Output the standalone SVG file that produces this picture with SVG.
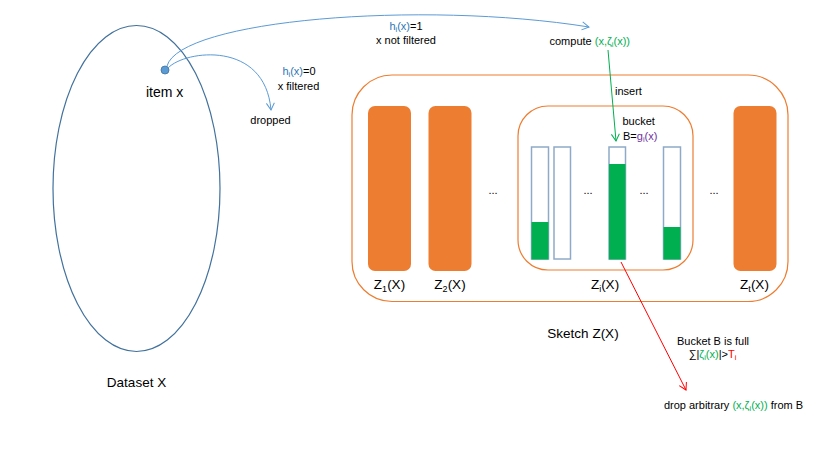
<svg xmlns="http://www.w3.org/2000/svg" width="830" height="467" viewBox="0 0 830 467">
<style>
text{font-family:"Liberation Sans",Arial,sans-serif;fill:#000}
.s{font-size:11px}
.m{font-size:13.5px}
.c{text-anchor:middle}
.blue{fill:#2E75B6}
.green{fill:#00B050}
.purple{fill:#7030A0}
.red{fill:#FF0000}
.bar{fill:#ED7D31}
.bk{fill:#fff;stroke:#8FAAC8;stroke-width:1.5}
.gf{fill:#00B050}
</style>
<defs>
<marker id="ab" markerWidth="10" markerHeight="10" refX="8" refY="5" orient="auto" markerUnits="userSpaceOnUse"><path d="M1,1 L8,5 L1,9" fill="none" stroke="#5B9BD5" stroke-width="1"/></marker>
<marker id="ag" markerWidth="10" markerHeight="10" refX="8" refY="5" orient="auto" markerUnits="userSpaceOnUse"><path d="M1,1 L8,5 L1,9" fill="none" stroke="#00B050" stroke-width="1"/></marker>
<marker id="ar" markerWidth="10" markerHeight="10" refX="8" refY="5" orient="auto" markerUnits="userSpaceOnUse"><path d="M1,1 L8,5 L1,9" fill="none" stroke="#FF0000" stroke-width="1"/></marker>
</defs>

<g id="dataset">
<ellipse cx="136.5" cy="188.5" rx="83.5" ry="163" fill="none" stroke="#41719C" stroke-width="1.2"/>
<text class="m c" x="136.5" y="387">Dataset X</text>
</g>

<g id="item">
<circle cx="165" cy="70" r="4" fill="#5B9BD5" stroke="#41719C" stroke-width="0.8"/>
<text x="146" y="97" style="font-size:14px">item x</text>
</g>

<g id="dropped">
<text class="s c" x="270.5" y="124">dropped</text>
</g>

<g id="sketch">
<rect x="352" y="75" width="436" height="226.5" rx="40" ry="40" fill="none" stroke="#ED7D31" stroke-width="1.2"/>
<text class="m c" x="583" y="338">Sketch Z(X)</text>
</g>

<g id="z1">
<rect class="bar" x="368" y="106" width="43" height="165" rx="7"/>
<text class="m c" x="389.5" y="289">Z<tspan font-size="9" dy="3">1</tspan><tspan dy="-3">(X)</tspan></text>
</g>
<g id="z2">
<rect class="bar" x="428.5" y="106" width="43" height="165" rx="7"/>
<text class="m c" x="450" y="289">Z<tspan font-size="9" dy="3">2</tspan><tspan dy="-3">(X)</tspan></text>
</g>
<g id="zi">
<rect x="518" y="106" width="175" height="164" rx="30" ry="30" fill="none" stroke="#ED7D31" stroke-width="1.2"/>
<rect class="bk" x="531.5" y="147" width="17" height="112"/>
<rect class="gf" x="531.5" y="222" width="17" height="37.5"/>
<rect class="bk" x="554" y="147" width="16.5" height="112"/>
<rect class="bk" x="609" y="147" width="16.5" height="112"/>
<rect class="gf" x="609" y="164" width="16.5" height="95.5"/>
<rect class="bk" x="663.5" y="147" width="17" height="112"/>
<rect class="gf" x="663.5" y="227" width="17" height="32.5"/>
<text class="s c" x="588" y="194">...</text>
<text class="s c" x="644" y="194">...</text>
<text class="s" x="622.5" y="124.5">bucket</text>
<text class="s" x="623" y="139.5">B=<tspan class="purple">g<tspan font-size="7.5" dy="2">i</tspan><tspan dy="-2">(x)</tspan></tspan></text>
<text class="m c" x="605" y="289">Z<tspan font-size="9" dy="3">i</tspan><tspan dy="-3">(X)</tspan></text>
</g>
<g id="zt">
<rect class="bar" x="733.5" y="106" width="43" height="165" rx="7"/>
<text class="m c" x="754.5" y="289">Z<tspan font-size="9" dy="3">t</tspan><tspan dy="-3">(X)</tspan></text>
</g>
<g id="dots">
<text class="s c" x="493" y="194">...</text>
<text class="s c" x="714" y="194">...</text>
</g>

<g id="compute">
<text class="s" x="549.5" y="45">compute <tspan class="green">(x,ζ<tspan font-size="7.5" dy="2">i</tspan><tspan dy="-2">(x))</tspan></tspan></text>
</g>

<g id="full">
<text class="s c" x="713" y="344.5">Bucket B is full</text>
<text class="s c" x="712.5" y="358">∑|<tspan class="green">ζ<tspan font-size="7.5" dy="2">i</tspan><tspan dy="-2">(x)</tspan></tspan>|&gt;<tspan class="red">T<tspan font-size="7.5" dy="2">i</tspan></tspan></text>
<text class="s c" x="733.5" y="408.5">drop arbitrary <tspan class="green">(x,ζ<tspan font-size="7.5" dy="2">i</tspan><tspan dy="-2">(x))</tspan></tspan> from B</text>
</g>

<g id="connectors" fill="none">
<path d="M167,66 C180,20 420,0 589,27" stroke="#5B9BD5" stroke-width="1" marker-end="url(#ab)"/>
<path d="M168,68 C185,50 265,40 271,110" stroke="#5B9BD5" stroke-width="1" marker-end="url(#ab)"/>
<path d="M608,50 L616,141" stroke="#00B050" stroke-width="1" marker-end="url(#ag)"/>
<path d="M621,262 L686,390" stroke="#FF0000" stroke-width="1" marker-end="url(#ar)"/>
</g>

<g id="connector-labels">
<text class="s c" x="406" y="29.5"><tspan class="blue">h<tspan font-size="7.5" dy="2">i</tspan><tspan dy="-2">(x)</tspan></tspan>=1</text>
<text class="s c" x="406" y="44">x not filtered</text>
<text class="s c" x="299" y="75"><tspan class="blue">h<tspan font-size="7.5" dy="2">i</tspan><tspan dy="-2">(x)</tspan></tspan>=0</text>
<text class="s c" x="298.5" y="89.5">x filtered</text>
<text class="s" x="615" y="95">insert</text>
</g>
</svg>
